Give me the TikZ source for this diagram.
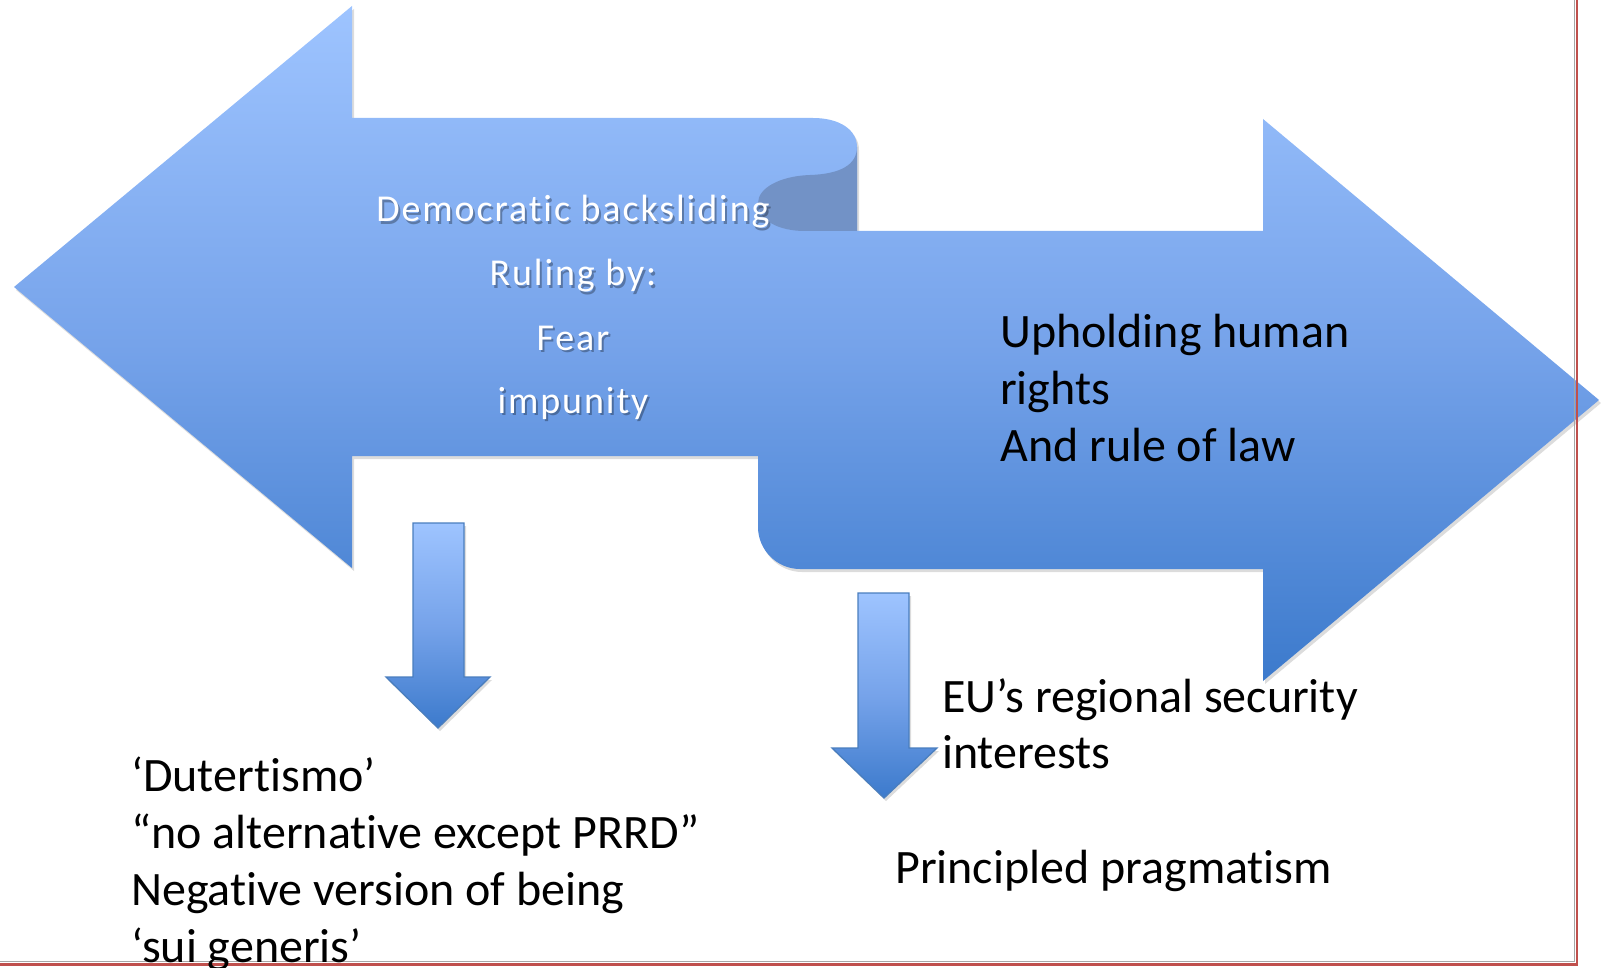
\documentclass[tikz,border=0pt]{standalone}
\usepackage{fontspec}
\setmainfont{Carlito}[Ligatures=NoCommon]
\newfontfamily\carl{Carlito}[Ligatures=NoCommon]
\newfontfamily\carlsp{Carlito}[LetterSpace=5,Ligatures=NoCommon]
\usetikzlibrary{shadows}
\definecolor{atop}{RGB}{158,196,255}
\definecolor{amid}{RGB}{118,163,234}
\definecolor{abot}{RGB}{60,122,204}
\definecolor{afold}{RGB}{114,146,198}
\definecolor{aline}{RGB}{74,126,190}
\definecolor{framered}{RGB}{192,80,77}
\begin{document}
\begin{tikzpicture}[x=1pt,y=-1pt,
  bigarrow/.style={top color=atop, bottom color=abot, middle color=amid,
    drop shadow={opacity=0.28, shadow xshift=2pt, shadow yshift=-3pt}},
  downarrow/.style={top color=atop, bottom color=abot, middle color=amid,
    draw=aline, line width=1.3pt,
    drop shadow={opacity=0.28, shadow xshift=2pt, shadow yshift=-3pt}},
  wtext/.style={text=white, font=\carlsp\fontsize{38}{45}\selectfont, inner sep=0pt, anchor=base},
  wshadow/.style={text=black, text opacity=0.3, font=\carlsp\fontsize{38}{45}\selectfont, inner sep=0pt, anchor=base},
  btext/.style={text=black, font=\carl\fontsize{48}{57}\selectfont, inner sep=0pt, anchor=base west}]
\useasboundingbox (0,0) rectangle (1601,968);
% main double arrow (one shape)
\path[bigarrow] (14,287) -- (352,6) -- (352,118) -- (813,118)
  .. controls (840,118) and (857,130) .. (857,147) -- (857,231) -- (1263,231)
  -- (1263,119) -- (1599,400) -- (1263,681) -- (1263,569) -- (800,569)
  .. controls (777,569) and (758,550) .. (758,527) -- (758,456) -- (352,456)
  -- (352,568) -- cycle;
% fold
\fill[afold] (857,147) .. controls (857,165) and (840,174) .. (810,175)
  .. controls (780,176) and (758,188) .. (758,203)
  .. controls (758,220) and (778,231) .. (805,231) -- (857,231) -- cycle;
% down arrows
\path[downarrow] (413,523) -- (464,523) -- (464,677) -- (490,677) -- (438,728) -- (386,677) -- (413,677) -- cycle;
\path[downarrow] (858,593) -- (909,593) -- (909,748) -- (937,748) -- (884,798) -- (832,748) -- (858,748) -- cycle;
% frame
\draw[gray!70, line width=0.8pt] (1574,0) -- (1574,961) -- (0,961);
\draw[framered, line width=2.5pt] (1577,0) -- (1577,964.5) -- (0,964.5);
% white text with shadow
\node[wshadow] (s1) at (575,224.5) {Democratic backsliding};
\node[wshadow] (s2) at (575,288.5) {Ruling by:};
\node[wshadow] (s3) at (575,352.5) {Fear};
\node[wshadow] (s4) at (575,415.5) {impunity};
\node[wtext] (w1) at (573,222) {Democratic backsliding};
\node[wtext] (w2) at (573,286) {Ruling by:};
\node[wtext] (w3) at (573,350) {Fear};
\node[wtext] (w4) at (573,413) {impunity};
% black text
\node[btext] (r1) at (1000,347) {Upholding human};
\node[btext] (r2) at (1000,404) {rights};
\node[btext] (r3) at (1000,461) {And rule of law};
\node[btext] (l1) at (131,791) {‘Dutertismo’};
\node[btext] (l2) at (131,848) {“no alternative except PRRD”};
\node[btext] (l3) at (131,905) {Negative version of being};
\node[btext] (l4) at (131,962) {‘sui generis’};
\node[btext] (e1) at (942,712) {EU’s regional security};
\node[btext] (e2) at (942,768) {interests};
\node[btext] (p1) at (895,883) {Principled pragmatism};
\end{tikzpicture}
\end{document}
